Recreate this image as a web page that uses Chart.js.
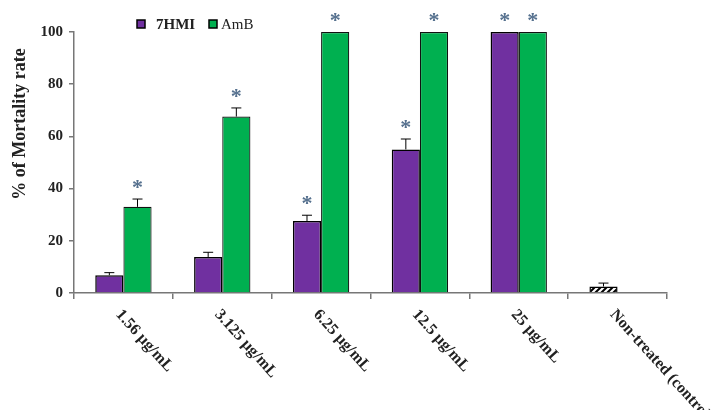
<!DOCTYPE html>
<html>
<head>
<meta charset="utf-8">
<script src="https://cdn.jsdelivr.net/npm/chart.js@4/dist/chart.umd.min.js"></script>
<style>
  html, body { margin: 0; padding: 0; background: #fff; }
  #wrap { width: 718px; height: 410px; position: relative; }
</style>
</head>
<body>
<div id="wrap"><canvas id="c" width="718" height="410"></canvas></div>
<script>
// Mortality rate (%) by concentration
const categories = ["1.56 µg/mL", "3.125 µg/mL", "6.25 µg/mL", "12.5 µg/mL", "25 µg/mL", "Non-treated (control)"];
const hmiValues = [6.8, 13.8, 27.6, 55.0, 100, 2.5];
const hmiErrors = [1.0, 1.8, 2.2, 4.0, 0, 1.3];
const ambValues = [33.0, 67.6, 100, 100, 100, null];
const ambErrors = [3.0, 3.3, 0, 0, 0, 0];
const hmiSignificant = [false, false, true, true, true, false];
const ambSignificant = [true, true, true, true, true, false];
const yTicks = [0, 20, 40, 60, 80, 100];
const yTitle = "% of Mortality rate";

const SERIF = "'Liberation Serif', 'Times New Roman', serif";
const PURPLE = "#7030A0";
const GREEN = "#00B050";
const STAR = "#55708e";

// diagonal hatch for the untreated control bar
function hatchPattern() {
  const p = document.createElement("canvas");
  p.width = 6; p.height = 6;
  const g = p.getContext("2d");
  g.fillStyle = "#fff"; g.fillRect(0, 0, 6, 6);
  g.strokeStyle = "#000"; g.lineWidth = 2;
  g.beginPath();
  g.moveTo(0, 6); g.lineTo(6, 0);
  g.moveTo(-3, 3); g.lineTo(3, -3);
  g.moveTo(3, 9); g.lineTo(9, 3);
  g.stroke();
  return g.createPattern(p, "repeat");
}
const ctx0 = document.getElementById("c").getContext("2d");
const hatch = hatchPattern();
const hmiColors = categories.map((_, i) => i === categories.length - 1 ? hatch : PURPLE);

// error bars (upper only), significance asterisks, slanted labels, legend, axis title
const annotate = {
  id: "annotate",
  afterDatasetsDraw(chart) {
    const ctx = chart.ctx;
    const y = chart.scales.y;
    const sets = [[hmiValues, hmiErrors, hmiSignificant], [ambValues, ambErrors, ambSignificant]];
    sets.forEach(([vals, errs, sig], di) => {
      const meta = chart.getDatasetMeta(di);
      meta.data.forEach((bar, i) => {
        const v = vals[i];
        if (v == null) return;
        const top = v + errs[i];
        const yt = y.getPixelForValue(top);
        if (errs[i] > 0) {
          ctx.save();
          ctx.strokeStyle = "#000"; ctx.lineWidth = 1;
          ctx.beginPath();
          ctx.moveTo(bar.x, y.getPixelForValue(v)); ctx.lineTo(bar.x, yt);
          ctx.moveTo(bar.x - 5, yt); ctx.lineTo(bar.x + 5, yt);
          ctx.stroke();
          ctx.restore();
        }
        if (sig[i]) {
          ctx.save();
          ctx.fillStyle = STAR;
          ctx.font = "bold 22px " + SERIF;
          ctx.textAlign = "center";
          ctx.textBaseline = "middle";
          ctx.fillText("*", bar.x, yt - 11);
          ctx.restore();
        }
      });
    });
  },
  afterDraw(chart) {
    const ctx = chart.ctx;
    const x = chart.scales.x;
    ctx.save();
    ctx.fillStyle = "#222";
    ctx.font = "bold 16px " + SERIF;
    ctx.textAlign = "left";
    ctx.textBaseline = "middle";
    categories.forEach((c, i) => {
      const cx = x.getPixelForValue(i);
      ctx.save();
      ctx.translate(cx - 5, 312);
      ctx.rotate(48 * Math.PI / 180);
      ctx.fillText(c, 0, 0);
      ctx.restore();
    });
    ctx.restore();

    ctx.save();
    ctx.fillStyle = "#222";
    ctx.font = "bold 18px " + SERIF;
    ctx.textAlign = "center";
    ctx.textBaseline = "middle";
    ctx.translate(20, 124);
    ctx.rotate(-Math.PI / 2);
    ctx.fillText(yTitle, 0, 0);
    ctx.restore();

    ctx.save();
    ctx.lineWidth = 1.5; ctx.strokeStyle = "#000";
    ctx.fillStyle = PURPLE; ctx.fillRect(137, 20, 8, 8); ctx.strokeRect(137, 20, 8, 8);
    ctx.fillStyle = GREEN; ctx.fillRect(209, 20, 8, 8); ctx.strokeRect(209, 20, 8, 8);
    ctx.fillStyle = "#222"; ctx.textBaseline = "middle"; ctx.textAlign = "left";
    ctx.font = "bold 15px " + SERIF; ctx.fillText("7HMI", 156, 25);
    ctx.font = "15px " + SERIF; ctx.fillText("AmB", 221, 25);
    ctx.restore();
  }
};

new Chart(ctx0, {
  type: "bar",
  data: {
    labels: categories,
    datasets: [
      { label: "7HMI", data: hmiValues, backgroundColor: hmiColors, borderColor: "#000", borderWidth: 1.5, borderSkipped: "bottom" },
      { label: "AmB", data: ambValues, backgroundColor: GREEN, borderColor: "#111", borderWidth: 1.2, borderSkipped: "bottom" }
    ]
  },
  options: {
    responsive: false,
    animation: false,
    layout: { padding: { top: 32, right: 51, left: 0, bottom: 0 } },
    plugins: { legend: { display: false }, tooltip: { enabled: false } },
    datasets: { bar: { categoryPercentage: 0.57, barPercentage: 1.0 } },
    scales: {
      x: {
        offset: true,
        grid: { offset: true, drawOnChartArea: false, drawTicks: true, tickLength: 6, color: "#777", lineWidth: 1.5 },
        border: { color: "#777", width: 1.5 },
        ticks: { display: false },
        afterFit(s) { s.height = 117; }
      },
      y: {
        min: 0, max: 100,
        afterBuildTicks(s) { s.ticks = yTicks.map(v => ({ value: v })); },
        grid: { drawOnChartArea: false, drawTicks: true, tickLength: 5, color: "#777", lineWidth: 1.5 },
        border: { color: "#777", width: 1.5 },
        ticks: { color: "#222", font: { family: SERIF, size: 15, weight: "bold" }, padding: 6 },
        afterFit(s) { s.width = 74; }
      }
    }
  },
  plugins: [annotate]
});
</script>
</body>
</html>
